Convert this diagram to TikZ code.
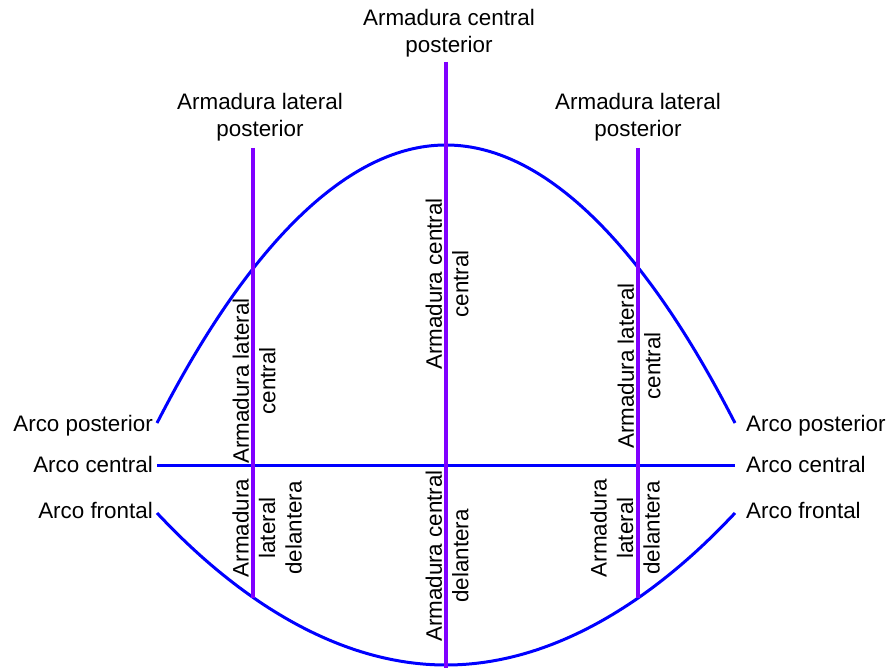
\documentclass[tikz,border=0pt]{standalone}
\usepackage{fontspec}
\setmainfont{Liberation Sans}
\definecolor{arcblue}{RGB}{0,0,255}
\definecolor{armpurple}{RGB}{128,0,255}
\begin{document}
\begin{tikzpicture}[x=1pt,y=-1pt,
  arcline/.style={draw=arcblue,line width=3pt},
  armline/.style={draw=armpurple,line width=4pt},
  lbl/.style={font=\fontsize{22.4}{26.5}\selectfont,inner sep=0pt,align=center},
  vlbl/.style={lbl,rotate=90}]
\useasboundingbox (0,0) rectangle (886,668);
% coordinates
\coordinate (pL) at (157,423);
\coordinate (pT) at (446,145);
\coordinate (pR) at (735,423);
\coordinate (fL) at (157,513);
\coordinate (fB) at (446,665);
\coordinate (fR) at (735,513);
\coordinate (cL) at (157,465);
\coordinate (cR) at (735,465);
\coordinate (aCt) at (446,62);
\coordinate (aCb) at (446,668);
\coordinate (aLt) at (253,148);
\coordinate (aLb) at (253,598);
\coordinate (aRt) at (638,148);
\coordinate (aRb) at (638,598);
% arcs
\draw[arcline] (pL) parabola bend (pT) (pR);
\draw[arcline] (fL) parabola bend (fB) (fR);
\draw[arcline] (cL) -- (cR);
% armaduras
\draw[armline] (aCt) -- (aCb);
\draw[armline] (aLt) -- (aLb);
\draw[armline] (aRt) -- (aRb);
% side labels
\node[lbl,anchor=base east] (tpl) at (153,431) {Arco posterior};
\node[lbl,anchor=base east] (tcl) at (153,472) {Arco central};
\node[lbl,anchor=base east] (tfl) at (153,518) {Arco frontal};
\node[lbl,anchor=base west] (tpr) at (746,431) {Arco posterior};
\node[lbl,anchor=base west] (tcr) at (746,472) {Arco central};
\node[lbl,anchor=base west] (tfr) at (746,518) {Arco frontal};
% top labels
\node[lbl] (tcp) at (449,33) {Armadura central\\posterior};
\node[lbl] (tlp) at (260,117) {Armadura lateral\\posterior};
\node[lbl] (trp) at (638,117) {Armadura lateral\\posterior};
% rotated labels
\node[vlbl] (vcc) at (447,284) {Armadura central\\central};
\node[vlbl] (vcd) at (447,556) {Armadura central\\delantera};
\node[vlbl] (vlc) at (254,381) {Armadura lateral\\central};
\node[vlbl] (vrc) at (639,366) {Armadura lateral\\central};
\node[vlbl] (vld) at (267,528) {Armadura\\lateral\\delantera};
\node[vlbl] (vrd) at (625,528) {Armadura\\lateral\\delantera};
\end{tikzpicture}
\end{document}
